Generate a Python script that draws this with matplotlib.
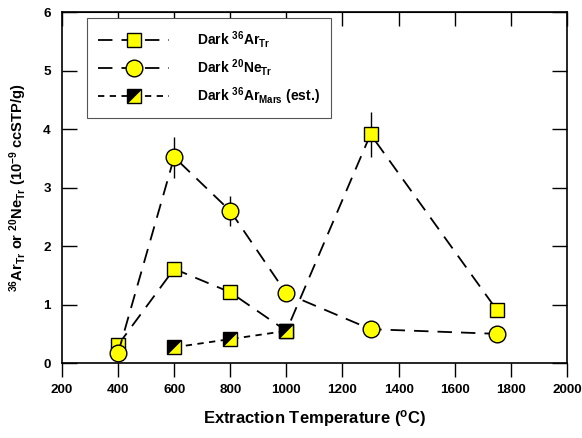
import matplotlib
matplotlib.use('Agg')
import matplotlib.pyplot as plt
from matplotlib.legend_handler import HandlerTuple

plt.rcParams['font.family'] = ['Liberation Sans', 'DejaVu Sans']
plt.rcParams['font.weight'] = 'bold'
plt.rcParams['mathtext.fontset'] = 'custom'
plt.rcParams['mathtext.rm'] = 'Liberation Sans:bold'
plt.rcParams['mathtext.it'] = 'Liberation Sans:bold'
plt.rcParams['mathtext.bf'] = 'Liberation Sans:bold'

# data
temps = [400, 600, 800, 1000, 1300, 1750]
ar36 = [0.31, 1.61, 1.21, 0.55, 3.91, 0.91]
ar36_err = [0.05, 0.10, 0.08, 0.05, 0.38, 0.08]
ne20 = [0.17, 3.52, 2.60, 1.19, 0.58, 0.50]
ne20_err = [0.05, 0.35, 0.25, 0.08, 0.05, 0.05]
mars_temps = [600, 800, 1000]
ar36_mars = [0.27, 0.41, 0.55]

x_ticks = [200, 400, 600, 800, 1000, 1200, 1400, 1600, 1800, 2000]
y_ticks = [0, 1, 2, 3, 4, 5, 6]

YELLOW = '#ffff00'
long_dash = (0, (8, 5))
short_dash = (0, (3.5, 3))

fig = plt.figure(figsize=(5.82, 4.38), dpi=100)
ax = fig.add_axes([0.1065, 0.171, 0.8675, 0.8016])

ax.errorbar(temps, ar36, yerr=ar36_err, fmt='none', ecolor='black', elinewidth=1, zorder=2)
ax.errorbar(temps, ne20, yerr=ne20_err, fmt='none', ecolor='black', elinewidth=1, zorder=2)

l_ar, = ax.plot(temps, ar36, color='black', linestyle=long_dash, linewidth=1.3,
                marker='s', markersize=10.5, markerfacecolor=YELLOW,
                markeredgecolor='black', markeredgewidth=1, zorder=3)
l_ne, = ax.plot(temps, ne20, color='black', linestyle=long_dash, linewidth=1.3,
                marker='o', markersize=12, markerfacecolor=YELLOW,
                markeredgecolor='black', markeredgewidth=1, zorder=3)

# half-filled squares: yellow square with a black upper-left triangle on top
l_mars, = ax.plot(mars_temps, ar36_mars, color='black', linestyle=short_dash, linewidth=1.3,
                  marker='s', markersize=9.5, markerfacecolor=YELLOW,
                  markeredgecolor='black', markeredgewidth=1, zorder=4)
tri = [(-1, -1), (1, 1), (-1, 1), (-1, -1)]
l_tri, = ax.plot(mars_temps, ar36_mars, linestyle='none', marker=tri, markersize=9.5,
                 markerfacecolor='black', markeredgecolor='black', markeredgewidth=0.5,
                 zorder=5)

ax.set_xlim(200, 2000)
ax.set_ylim(0, 6)
ax.set_xticks(x_ticks)
ax.set_yticks(y_ticks)
ax.tick_params(axis='x', which='both', direction='out', length=10, width=1,
               labelsize=9.7, pad=5, top=False)
ax.tick_params(axis='y', which='both', direction='in', length=11, width=1,
               labelsize=9.7, pad=8, right=True)
for lab in ax.get_xticklabels() + ax.get_yticklabels():
    lab.set_fontweight('bold')

# top ticks point inward
sec = ax.secondary_xaxis('top')
sec.set_xticks(x_ticks)
sec.tick_params(direction='in', length=10, width=1, labeltop=False)

for sp in ax.spines.values():
    sp.set_linewidth(1.2)

ax.set_xlabel('Extraction Temperature ($^{o}$C)', fontsize=12, fontweight='bold', labelpad=9)
ax.set_ylabel('$^{36}$Ar$_{Tr}$ or $^{20}$Ne$_{Tr}$ (10$^{-9}$ ccSTP/g)', fontsize=10.5,
              fontweight='bold', labelpad=10)

leg = ax.legend([l_ar, l_ne, (l_mars, l_tri)],
                ['Dark $^{36}$Ar$_{Tr}$', 'Dark $^{20}$Ne$_{Tr}$', 'Dark $^{36}$Ar$_{Mars}$ (est.)'],
                handler_map={tuple: HandlerTuple(ndivide=1, pad=0)},
                loc='upper left', bbox_to_anchor=(0.05, 0.983), fontsize=10,
                handlelength=5.1, handletextpad=2.0, labelspacing=0.5,
                borderpad=0.8, borderaxespad=0, fancybox=False, framealpha=1,
                edgecolor='#555555')
leg.get_frame().set_linewidth(0.8)
for t in leg.get_texts():
    t.set_fontweight('bold')

plt.savefig('out.png', dpi=100)
